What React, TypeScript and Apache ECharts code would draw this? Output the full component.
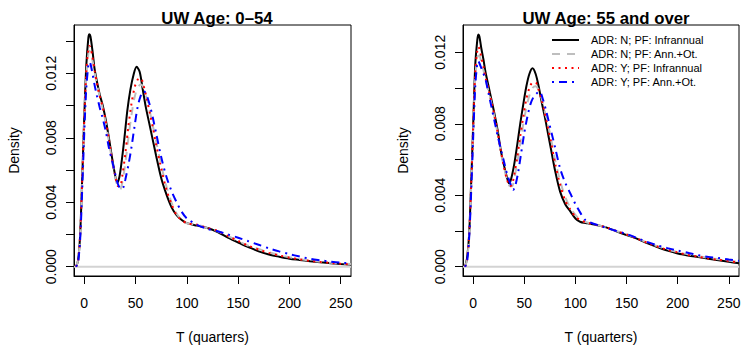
import React, { useEffect, useRef } from "react";
import * as echarts from "echarts";

type P = [number, number];

const SERIES_NAMES = [
  "ADR: N; PF: Infrannual",
  "ADR: N; PF: Ann.+Ot.",
  "ADR: Y; PF: Infrannual",
  "ADR: Y; PF: Ann.+Ot.",
];
const PANEL_TITLES = ["UW Age: 0\u201354", "UW Age: 55 and over"];
const X_TICKS = [0, 50, 100, 150, 200, 250];
const Y_TICKS = [0, 0.002, 0.004, 0.006, 0.008, 0.01, 0.012, 0.014];
const Y_LABELS = [0, 0.004, 0.008, 0.012];
const X_RANGE = [-10, 260];
const Y_RANGE_LEFT = [-0.000577, 0.014997];
const Y_RANGE_RIGHT = [-0.00052, 0.013527];

// Left panel: UW Age 0-54
const leftNInfra: P[] = [
  [-8, 0], [-6, 0.0004], [-4, 0.002], [-2, 0.0055], [0, 0.0093], [2, 0.0125], [4, 0.0142], [5, 0.01442], [6, 0.0143],
  [8, 0.0134], [10, 0.0123], [12, 0.0116], [15, 0.0107], [18, 0.01], [21, 0.0091], [24, 0.008], [27, 0.0068],
  [30, 0.0057], [32, 0.0052], [34, 0.0055], [36, 0.0063], [39, 0.0079], [42, 0.0097], [45, 0.011], [48, 0.0119],
  [51, 0.0124], [54, 0.0121], [57, 0.011], [60, 0.0099], [63, 0.009], [66, 0.0081], [70, 0.0069], [75, 0.0055],
  [80, 0.0045], [85, 0.0037], [90, 0.0032], [95, 0.0029], [100, 0.0027], [110, 0.00255], [120, 0.0024],
  [130, 0.00215], [140, 0.0018], [150, 0.0015], [160, 0.00122], [170, 0.00095], [180, 0.00076], [190, 0.00062],
  [200, 0.0005], [210, 0.00042], [220, 0.00034], [230, 0.00027], [240, 0.00021], [250, 0.00017], [260, 0.00014],
];
const leftNAnn: P[] = [
  [-8, 0], [-6, 0.0004], [-4, 0.0019], [-2, 0.0052], [0, 0.0089], [2, 0.0118], [4, 0.0132], [5, 0.0134], [6, 0.0133],
  [8, 0.0128], [10, 0.0121], [12, 0.0114], [15, 0.0106], [18, 0.0098], [21, 0.0089], [24, 0.0078], [27, 0.0066],
  [30, 0.0056], [33, 0.0049], [35, 0.0048], [37, 0.0052], [40, 0.0064], [43, 0.008], [46, 0.0094], [49, 0.0105],
  [52, 0.0111], [55, 0.0113], [58, 0.0111], [61, 0.0104], [64, 0.0096], [67, 0.0087], [70, 0.0078], [75, 0.0063],
  [80, 0.005], [85, 0.004], [90, 0.0033], [95, 0.0029], [100, 0.0027], [110, 0.0026], [120, 0.0024], [130, 0.0022],
  [140, 0.0019], [150, 0.0016], [160, 0.0013], [170, 0.0011], [180, 0.0009], [190, 0.00072], [200, 0.00058],
  [210, 0.00047], [220, 0.00038], [230, 0.0003], [240, 0.00024], [250, 0.00019], [260, 0.00016],
];
const leftYInfra: P[] = [
  [-8, 0], [-6, 0.0004], [-4, 0.002], [-2, 0.0054], [0, 0.0091], [2, 0.0121], [4, 0.0135], [5, 0.0137], [6, 0.0136],
  [8, 0.013], [10, 0.0122], [12, 0.0115], [15, 0.0106], [18, 0.0099], [21, 0.009], [24, 0.0079], [27, 0.0067],
  [30, 0.0057], [33, 0.005], [35, 0.005], [37, 0.0056], [40, 0.007], [43, 0.0087], [46, 0.0101], [49, 0.0111],
  [52, 0.0116], [55, 0.0117], [58, 0.0112], [61, 0.0104], [64, 0.0095], [67, 0.0086], [70, 0.0076], [75, 0.0061],
  [80, 0.0048], [85, 0.0039], [90, 0.0032], [95, 0.0029], [100, 0.0027], [110, 0.0026], [120, 0.0024],
  [130, 0.00222], [140, 0.0019], [150, 0.0016], [160, 0.0013], [170, 0.00106], [180, 0.00086], [190, 0.0007],
  [200, 0.00056], [210, 0.00045], [220, 0.00036], [230, 0.00029], [240, 0.00023], [250, 0.00018], [260, 0.00015],
];
const leftYAnn: P[] = [
  [-8, 0], [-6, 0.0003], [-4, 0.0017], [-2, 0.0048], [0, 0.0083], [2, 0.0111], [4, 0.0125], [5, 0.0127], [6, 0.0126],
  [8, 0.012], [10, 0.0113], [12, 0.0107], [15, 0.0099], [18, 0.0092], [21, 0.0084], [24, 0.0074], [27, 0.0066],
  [30, 0.0058], [33, 0.0051], [36, 0.0048], [38, 0.0049], [40, 0.0054], [43, 0.0063], [46, 0.0074], [49, 0.0087],
  [52, 0.0099], [55, 0.0106], [58, 0.0109], [61, 0.0106], [64, 0.01], [67, 0.0092], [70, 0.0083], [75, 0.0068],
  [80, 0.0056], [85, 0.0047], [90, 0.004], [95, 0.0034], [100, 0.003], [110, 0.0026], [120, 0.00235],
  [130, 0.0022], [140, 0.002], [150, 0.0018], [160, 0.00158], [170, 0.00136], [180, 0.00114], [190, 0.00095],
  [200, 0.00078], [210, 0.00063], [220, 0.00049], [230, 0.0004], [240, 0.00032], [250, 0.00025], [260, 0.0002],
];

// Right panel: UW Age 55 and over
const rightNInfra: P[] = [
  [-8, 0], [-6, 0.0005], [-4, 0.0018], [-2, 0.0047], [0, 0.008], [2, 0.0113], [4, 0.0127], [5, 0.013], [6, 0.0129],
  [8, 0.0122], [10, 0.0116], [12, 0.0109], [15, 0.0101], [18, 0.0093], [21, 0.0085], [24, 0.0076], [27, 0.0065],
  [30, 0.0057], [33, 0.005], [35, 0.00467], [37, 0.0049], [40, 0.0057], [43, 0.0068], [46, 0.008], [49, 0.0091],
  [52, 0.0101], [55, 0.0108], [58, 0.0111], [61, 0.0108], [64, 0.0101], [67, 0.0092], [70, 0.0084], [73, 0.0075],
  [76, 0.0066], [80, 0.0054], [85, 0.0042], [90, 0.0035], [95, 0.0031], [100, 0.0027], [105, 0.0025],
  [110, 0.00245], [120, 0.00234], [130, 0.0022], [140, 0.00198], [150, 0.00177], [160, 0.00157], [170, 0.00132],
  [180, 0.0011], [190, 0.0009], [200, 0.00074], [210, 0.00063], [220, 0.00054], [230, 0.00045], [240, 0.00036],
  [250, 0.00027], [260, 0.00019],
];
const rightNAnn: P[] = [
  [-8, 0], [-6, 0.0004], [-4, 0.0017], [-2, 0.0045], [0, 0.0077], [2, 0.0106], [4, 0.0117], [5, 0.0118], [6, 0.0118],
  [8, 0.0114], [10, 0.011], [12, 0.0105], [15, 0.0098], [18, 0.0091], [21, 0.0083], [24, 0.0074], [27, 0.0064],
  [30, 0.0056], [33, 0.0049], [36, 0.0045], [38, 0.0045], [40, 0.0049], [43, 0.0058], [46, 0.0069], [49, 0.008],
  [52, 0.0089], [55, 0.0096], [58, 0.01], [61, 0.0101], [64, 0.0099], [67, 0.0094], [70, 0.0087], [73, 0.008],
  [76, 0.0072], [80, 0.006], [85, 0.0048], [90, 0.0039], [95, 0.0033], [100, 0.0029], [105, 0.0026], [110, 0.0025],
  [120, 0.00235], [130, 0.0022], [140, 0.002], [150, 0.00182], [160, 0.0016], [170, 0.00136], [180, 0.00115],
  [190, 0.00097], [200, 0.00082], [210, 0.00069], [220, 0.00059], [230, 0.00049], [240, 0.00042], [250, 0.00034],
  [260, 0.00026],
];
const rightYInfra: P[] = [
  [-8, 0], [-6, 0.0004], [-4, 0.0018], [-2, 0.0046], [0, 0.0079], [2, 0.0109], [4, 0.0121], [5, 0.0123], [6, 0.0122],
  [8, 0.0117], [10, 0.0112], [12, 0.0106], [15, 0.0099], [18, 0.0092], [21, 0.0084], [24, 0.0075], [27, 0.0065],
  [30, 0.0056], [33, 0.0049], [36, 0.0045], [38, 0.0046], [40, 0.0051], [43, 0.0061], [46, 0.0073], [49, 0.0084],
  [52, 0.0094], [55, 0.01], [58, 0.0103], [61, 0.0103], [64, 0.0099], [67, 0.0093], [70, 0.0086], [73, 0.0078],
  [76, 0.007], [80, 0.0058], [85, 0.0046], [90, 0.0037], [95, 0.0032], [100, 0.0028], [105, 0.0026], [110, 0.0025],
  [120, 0.00234], [130, 0.0022], [140, 0.002], [150, 0.0018], [160, 0.00158], [170, 0.00134], [180, 0.00113],
  [190, 0.00094], [200, 0.0008], [210, 0.00066], [220, 0.00056], [230, 0.00046], [240, 0.00039], [250, 0.00031],
  [260, 0.00024],
];
const rightYAnn: P[] = [
  [-8, 0], [-6, 0.0003], [-4, 0.0016], [-2, 0.0042], [0, 0.0073], [2, 0.0101], [4, 0.0114], [5, 0.0115], [6, 0.0114],
  [8, 0.0111], [10, 0.0108], [12, 0.0105], [15, 0.0097], [18, 0.0089], [21, 0.0081], [24, 0.0073], [27, 0.0066],
  [30, 0.0059], [33, 0.0052], [36, 0.0047], [39, 0.0043], [41, 0.0045], [44, 0.0053], [47, 0.0064], [50, 0.0075],
  [53, 0.0084], [56, 0.0091], [59, 0.0095], [62, 0.0097], [65, 0.0098], [68, 0.0094], [71, 0.0088], [74, 0.0081],
  [77, 0.0074], [80, 0.0067], [85, 0.0055], [90, 0.0047], [95, 0.0041], [100, 0.0035], [105, 0.003], [110, 0.0026],
  [120, 0.00236], [130, 0.00218], [140, 0.002], [150, 0.00183], [160, 0.00161], [170, 0.00139], [180, 0.0012],
  [190, 0.00104], [200, 0.0009], [210, 0.00078], [220, 0.00065], [230, 0.00055], [240, 0.00049], [250, 0.0004],
  [260, 0.00033],
];

const LEFT_DATA = [leftNInfra, leftNAnn, leftYInfra, leftYAnn];
const RIGHT_DATA = [rightNInfra, rightNAnn, rightYInfra, rightYAnn];

const FONT = "'Liberation Sans', Arial, Helvetica, sans-serif";
const STYLES = [
  { color: "#000000", width: 2, type: "solid" as any },
  { color: "#BEBEBE", width: 2, type: [8, 7] as any },
  { color: "#FF0000", width: 2, type: [2, 4.5] as any },
  { color: "#0000FF", width: 2, type: [2, 5, 8, 5] as any },
];

export default function App() {
  const ref = useRef<HTMLDivElement>(null);
  useEffect(() => {
    if (!ref.current) return;
    const chart = echarts.init(ref.current, undefined, { renderer: "svg" });

    const grids = [
      { left: 74, right: 391, top: 25, bottom: 69 },
      { left: 463, right: 3, top: 25, bottom: 69 },
    ];
    const yRanges = [Y_RANGE_LEFT, Y_RANGE_RIGHT];

    const xAxes = grids.map((_, i) => ({
      type: "value",
      gridIndex: i,
      min: X_RANGE[0],
      max: X_RANGE[1],
      name: "T (quarters)",
      nameLocation: "middle",
      nameGap: 54,
      nameTextStyle: { fontFamily: FONT, fontSize: 14, color: "#000" },
      axisLine: { show: true, onZero: false, lineStyle: { color: "#000", width: 1 } },
      axisTick: { show: true, length: 8, customValues: X_TICKS, lineStyle: { color: "#000" } },
      axisLabel: { show: true, margin: 20, customValues: X_TICKS, fontFamily: FONT, fontSize: 14, color: "#000" },
      splitLine: { show: false },
    }));
    const yAxes = grids.map((_, i) => ({
      type: "value",
      gridIndex: i,
      min: yRanges[i][0],
      max: yRanges[i][1],
      name: "Density",
      nameLocation: "middle",
      nameGap: 53,
      nameTextStyle: { fontFamily: FONT, fontSize: 14, color: "#000" },
      axisLine: { show: true, onZero: false, lineStyle: { color: "#000", width: 1 } },
      axisTick: { show: true, length: 8, customValues: Y_TICKS, lineStyle: { color: "#000" } },
      axisLabel: {
        show: true,
        rotate: 90,
        margin: 16,
        customValues: Y_LABELS,
        formatter: (v: number) => v.toFixed(3),
        fontFamily: FONT,
        fontSize: 14,
        color: "#000",
      },
      splitLine: { show: false },
    }));

    const series: any[] = [];
    [LEFT_DATA, RIGHT_DATA].forEach((panel, gi) => {
      series.push({
        type: "line",
        name: "zero",
        xAxisIndex: gi,
        yAxisIndex: gi,
        data: [
          [X_RANGE[0], 0],
          [X_RANGE[1], 0],
        ],
        symbol: "none",
        silent: true,
        lineStyle: { color: "#D3D3D3", width: 2 },
        z: 1,
      });
      panel.forEach((d, si) => {
        series.push({
          type: "line",
          name: SERIES_NAMES[si],
          xAxisIndex: gi,
          yAxisIndex: gi,
          data: d,
          symbol: "none",
          smooth: 0.3,
          clip: true,
          lineStyle: { ...STYLES[si], cap: "butt" },
          itemStyle: { color: STYLES[si].color },
          color: STYLES[si].color,
          z: 2 + si,
        });
      });
    });

    chart.setOption({
      animation: false,
      backgroundColor: "#ffffff",
      title: [
        {
          text: PANEL_TITLES[0],
          left: 212,
          top: 5,
          textAlign: "center",
          textStyle: { fontFamily: FONT, fontSize: 16.8, fontWeight: "bold", color: "#000" },
        },
        {
          text: PANEL_TITLES[1],
          left: 601,
          top: 5,
          textAlign: "center",
          textStyle: { fontFamily: FONT, fontSize: 16.8, fontWeight: "bold", color: "#000" },
        },
      ],
      legend: {
        data: SERIES_NAMES,
        orient: "vertical",
        left: 551,
        top: 33,
        padding: 0,
        itemWidth: 27,
        itemHeight: 14,
        itemGap: 0,
        itemStyle: { opacity: 0 },
        textStyle: { fontFamily: FONT, fontSize: 11, color: "#000", lineHeight: 14, padding: [0, 0, 0, 7] },
        selectedMode: false,
      },
      grid: grids.map((g) => ({
        ...g,
        show: true,
        borderColor: "#000",
        borderWidth: 1,
        backgroundColor: "transparent",
        containLabel: false,
        outerBoundsMode: "none",
      })),
      xAxis: xAxes,
      yAxis: yAxes,
      series,
    } as any);

    return () => chart.dispose();
  }, []);

  return (
    <div
      ref={ref}
      style={{ position: "absolute", left: 0, top: 0, width: 742, height: 345, background: "#fff" }}
    />
  );
}
